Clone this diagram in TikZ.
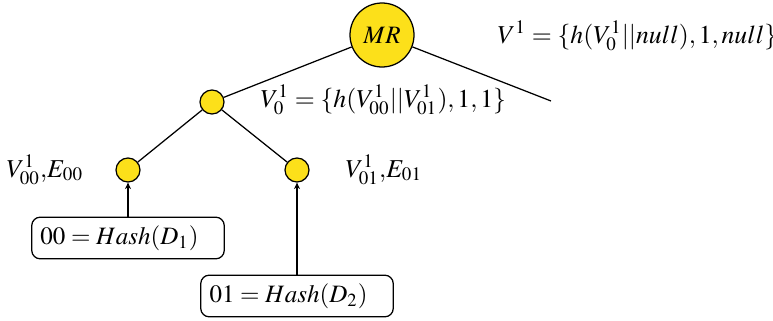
\documentclass[tikz,border=0pt]{standalone}
\usepackage{amsmath,amssymb}
\usepackage{mathptmx}
\usepackage{tikz}
\usetikzlibrary{arrows.meta}
\definecolor{leafyellow}{RGB}{252,224,26}

\begin{document}
\begin{tikzpicture}[x=0.4pt, y=-0.4pt, line width=0.5pt, >={Stealth[length=2.6pt, width=2.4pt]},
	hashnode/.style={circle, draw, fill=leafyellow, minimum size=9.6pt, inner sep=0pt},
	vlabel/.style={anchor=base west, inner sep=0pt, font=\fontsize{10.3}{12}\selectfont},
	databox/.style={draw, rounded corners=3.4pt, text width=70pt, align=left, inner xsep=3.5pt, minimum height=16pt}]
	\useasboundingbox (0,0) rectangle (773,320);
	\node[hashnode, minimum size=25.6pt] (mr) at (382,35) {$MR$};
	\node[vlabel] (vroot) at (497,43) {$V^1=\{h(V^1_0||null),1,null\}$};
	\coordinate (nullend) at (551,101);
	\node[hashnode] (v0) at (212,102) {};
	\node[vlabel] (v0lab) at (260,107) {$V^1_0=\{h(V^1_{00}||V^1_{01}),1,1\}$};
	\foreach \n/\x in {00/128, 01/297} {\node[hashnode] (v\n) at (\x,170) {};}
	\node[vlabel] (v00lab) at (6,177) {$V^1_{00}$,$E_{00}$};
	\node[vlabel] (v01lab) at (345,177) {$V^1_{01}$,$E_{01}$};
	\node[databox] (d1) at (128,238) {$00=Hash(D_1)$};
	\node[databox] (d2) at (297,296) {$01=Hash(D_2)$};
	\draw (mr) -- (v0);
	\draw (mr) -- (nullend);
	\draw (v0) -- (v00);
	\draw (v0) -- (v01);
	\draw[->] (d1) -- (v00);
	\draw[->] (d2) -- (v01);
\end{tikzpicture}
\end{document}
